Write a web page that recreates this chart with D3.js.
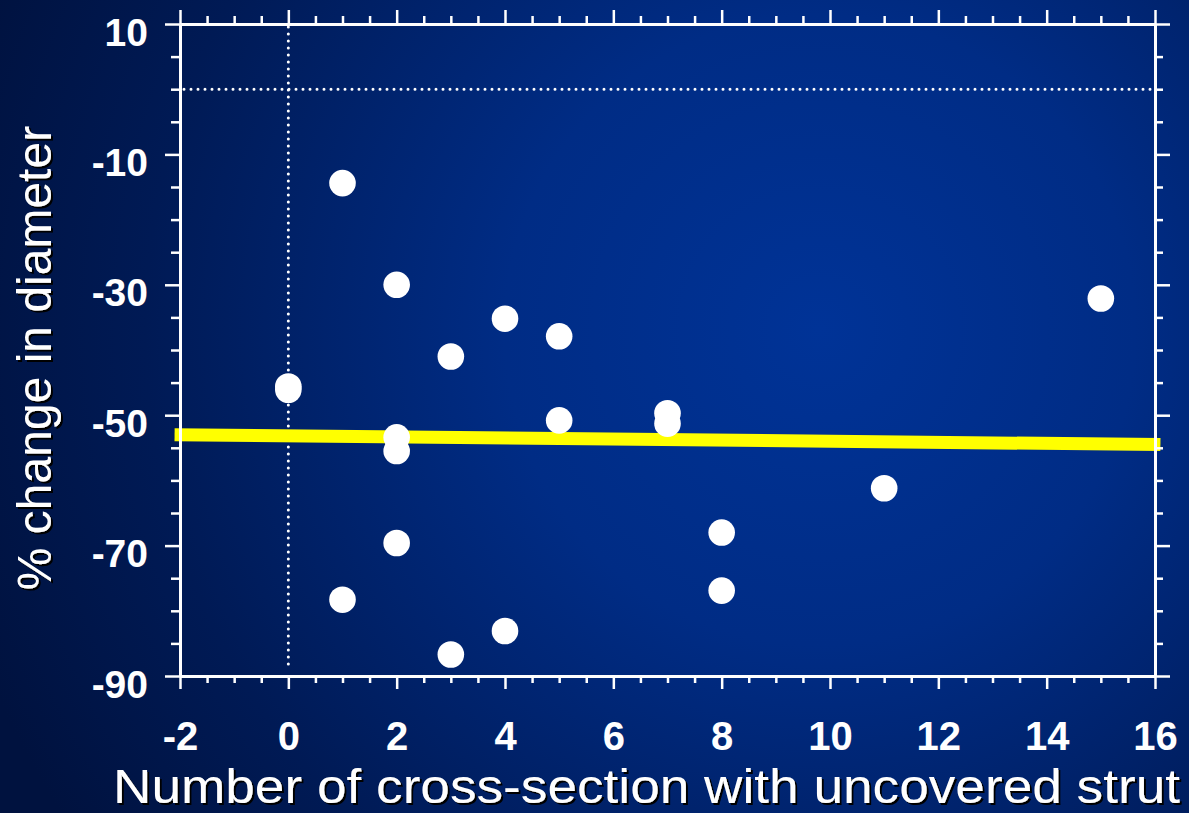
<!DOCTYPE html>
<html>
<head>
<meta charset="utf-8">
<script src="https://cdn.jsdelivr.net/npm/d3@7"></script>
<style>
html,body{margin:0;padding:0;background:#001645;}
svg{display:block;}
</style>
</head>
<body>
<script>
// ---- data ----
const xValues = [1, 2, 4, 5, 3, 0, 0, 5, 7, 7, 2, 2, 11, 8, 2, 8, 1, 4, 3, 15];
const yValues = [-14.4, -30.0, -35.2, -37.9, -41.0, -45.6, -46.1, -50.8, -49.7, -51.3, -53.4, -55.5, -61.2, -68.0, -69.6, -76.9, -78.3, -83.1, -86.7, -32.1];
const fitX = [-2.1, 16.1];
const fitY = [-53.0, -54.5];
const xMajorTicks = [-2, 0, 2, 4, 6, 8, 10, 12, 14, 16];
const yMajorTicks = [10, -10, -30, -50, -70, -90];
const xTitle = "Number of cross-section with uncovered strut";
const yTitle = "% change in diameter";

(function () {
const W = 1189, H = 813;
const pL = 180, pR = 1155, pT = 24, pB = 676;
const FONT = "'Liberation Sans', Arial, Helvetica, sans-serif";

const svg = d3.select("body").append("svg").attr("width", W).attr("height", H);
const defs = svg.append("defs");
const grad = defs.append("radialGradient").attr("id", "bg")
  .attr("gradientUnits", "userSpaceOnUse")
  .attr("cx", 820).attr("cy", 330).attr("r", 900);
grad.append("stop").attr("offset", 0).attr("stop-color", "#003397");
grad.append("stop").attr("offset", 0.35).attr("stop-color", "#002c85");
grad.append("stop").attr("offset", 0.75).attr("stop-color", "#001a55");
grad.append("stop").attr("offset", 1).attr("stop-color", "#00123f");
const sh = defs.append("filter").attr("id", "shadow").attr("x", "-5%").attr("y", "-20%").attr("width", "110%").attr("height", "140%");
sh.append("feDropShadow").attr("dx", 2).attr("dy", 2).attr("stdDeviation", 0.4).attr("flood-color", "#000").attr("flood-opacity", 1);

svg.append("rect").attr("width", W).attr("height", H).attr("fill", "url(#bg)");

const x = d3.scaleLinear().domain([-2, 16]).range([pL, pR]);
const y = d3.scaleLinear().domain([-90, 10]).range([pB, pT]);

const xMinor = d3.range(-2, 16.01, 0.5).filter(v => !xMajorTicks.includes(v));
const yMinor = d3.range(-90, 10.01, 5).filter(v => !yMajorTicks.includes(v));

// reference dotted lines
svg.append("line")
  .attr("x1", x(0)).attr("x2", x(0)).attr("y1", y(10) + 3).attr("y2", pB - 8)
  .attr("stroke", "#fff").attr("stroke-width", 3).attr("stroke-dasharray", "0 7").attr("stroke-linecap", "round");
svg.append("line")
  .attr("x1", pL + 4).attr("x2", pR - 3).attr("y1", y(0)).attr("y2", y(0))
  .attr("stroke", "#fff").attr("stroke-width", 3).attr("stroke-dasharray", "0 7").attr("stroke-linecap", "round");

// fit line
svg.append("path")
  .datum(fitX.map((v, i) => [v, fitY[i]]))
  .attr("d", d3.line().x(d => x(d[0])).y(d => y(d[1])))
  .attr("fill", "none").attr("stroke", "#ffff00").attr("stroke-width", 13);

// points
svg.append("g").selectAll("circle")
  .data(xValues.map((v, i) => [v, yValues[i]]))
  .join("circle")
  .attr("cx", d => x(d[0])).attr("cy", d => y(d[1])).attr("r", 13.3)
  .attr("fill", "#fff");

function styleAxis(g, sw) {
  g.selectAll(".domain").attr("stroke", "#fff").attr("stroke-width", 3);
  g.selectAll(".tick line").attr("stroke", "#fff").attr("stroke-width", sw);
}

// bottom
const gB = svg.append("g").attr("transform", `translate(0,${pB})`);
gB.append("g").call(d3.axisBottom(x).tickValues(xMinor).tickSize(7).tickSizeOuter(0).tickFormat(""))
  .call(g => styleAxis(g, 2.5));
gB.append("g").call(d3.axisBottom(x).tickValues(xMajorTicks).tickSize(13).tickSizeOuter(0).tickFormat(d => String(d)))
  .call(g => styleAxis(g, 2.5))
  .call(g => g.selectAll("text").attr("fill", "#fff").attr("y", 74).attr("dy", null)
    .attr("font-family", FONT).attr("font-weight", "bold").attr("font-size", 40));

// top
const gT = svg.append("g").attr("transform", `translate(0,${pT})`);
gT.append("g").call(d3.axisTop(x).tickValues(xMinor).tickSize(8).tickSizeOuter(0).tickFormat(""))
  .call(g => styleAxis(g, 2.5));
gT.append("g").call(d3.axisTop(x).tickValues(xMajorTicks).tickSize(14).tickSizeOuter(0).tickFormat(""))
  .call(g => styleAxis(g, 2.5));

// left
const gL = svg.append("g").attr("transform", `translate(${pL},0)`);
gL.append("g").call(d3.axisLeft(y).tickValues(yMinor).tickSize(9).tickSizeOuter(0).tickFormat(""))
  .call(g => styleAxis(g, 2.5));
gL.append("g").call(d3.axisLeft(y).tickValues(yMajorTicks).tickSize(15).tickSizeOuter(0).tickFormat(d => String(d)))
  .call(g => styleAxis(g, 2.5))
  .call(g => g.selectAll("text").attr("fill", "#fff").attr("x", -32).attr("dy", 21)
    .attr("font-family", FONT).attr("font-weight", "bold").attr("font-size", 39));

// right
const gR = svg.append("g").attr("transform", `translate(${pR},0)`);
gR.append("g").call(d3.axisRight(y).tickValues(yMinor).tickSize(8).tickSizeOuter(0).tickFormat(""))
  .call(g => styleAxis(g, 2.5));
gR.append("g").call(d3.axisRight(y).tickValues(yMajorTicks).tickSize(15).tickSizeOuter(0).tickFormat(""))
  .call(g => styleAxis(g, 2.5));

// titles
svg.append("g").attr("filter", "url(#shadow)")
  .append("text").attr("x", 113).attr("y", 803).attr("text-anchor", "start")
  .attr("textLength", 1067).attr("lengthAdjust", "spacingAndGlyphs")
  .attr("font-family", FONT).attr("font-size", 49).attr("fill", "#fff").text(xTitle);
svg.append("g").attr("filter", "url(#shadow)")
  .append("text").attr("transform", "translate(51,358) rotate(-90)").attr("text-anchor", "middle")
  .attr("font-family", FONT).attr("font-size", 48).attr("fill", "#fff").text(yTitle);
})();
</script>
</body>
</html>
